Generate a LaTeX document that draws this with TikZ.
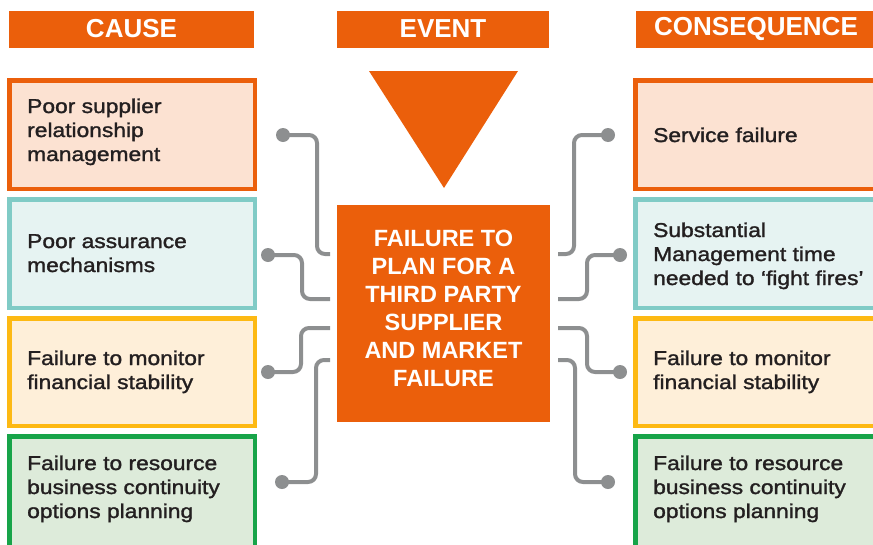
\documentclass[tikz,border=0pt]{standalone}
\usepackage{fontspec}
\setmainfont{Liberation Sans}
\newfontfamily\labfont[FakeStretch=1.14,FakeBold=1.5]{Liberation Sans}
\newfontfamily\hdfont[FakeStretch=1.0]{Liberation Sans}
\definecolor{orng}{HTML}{EB5F0B}
\definecolor{orfill}{HTML}{FCE2D2}
\definecolor{tlline}{HTML}{80CBC6}
\definecolor{tlfill}{HTML}{E6F3F2}
\definecolor{ylline}{HTML}{FDB913}
\definecolor{ylfill}{HTML}{FEEFD9}
\definecolor{grline}{HTML}{17A449}
\definecolor{grfill}{HTML}{DDEBDA}
\definecolor{conn}{HTML}{8D8F90}
\definecolor{txt}{HTML}{231F20}
\tikzset{
  hdr/.style={text=white, font=\hdfont\bfseries\fontsize{26}{30}\selectfont},
  bx/.style={line width=4.5pt},
  lbl/.style={anchor=base west, align=left, text=txt, inner sep=0pt, font=\labfont\fontsize{20}{24}\selectfont},
  wire/.style={draw=conn, line width=4pt, rounded corners=8pt},
  dot/.style={circle, fill=conn, minimum size=14pt, inner sep=0pt}
}
\begin{document}
\begin{tikzpicture}[x=1pt,y=-1pt]
\useasboundingbox (0,0) rectangle (873,544);
\clip (0,0) rectangle (873,544);
% headers
\fill[orng] (9,11) rectangle (254,48);
\node[hdr] (hcause) at (131.5,29) {CAUSE};
\fill[orng] (337,11) rectangle (549,48);
\node[hdr] (hevent) at (443,29) {EVENT};
\fill[orng] (636,11) rectangle (878,48);
\node[hdr] (hcons) at (756,29) {CONSEQUENCE};
% triangle
\fill[orng] (369,71) -- (518,71) -- (444,188) -- cycle;
% central box
\fill[orng] (337,205) rectangle (550,422);
\node[align=center, text=white, inner sep=0pt, font=\bfseries\fontsize{23.5}{28}\selectfont] (center) at (443.5,308)
  {FAILURE TO\\PLAN FOR A\\THIRD PARTY\\SUPPLIER\\AND MARKET\\FAILURE};
% left boxes
\draw[bx, draw=orng, fill=orfill] (9.25,80.25) rectangle (254.75,188.75);
\draw[bx, draw=tlline, fill=tlfill] (9.25,199.25) rectangle (254.75,307.75);
\draw[bx, draw=ylline, fill=ylfill] (9.25,318.25) rectangle (254.75,425.75);
\draw[bx, draw=grline, fill=grfill] (9.25,436.25) rectangle (254.75,560);
% right boxes
\draw[bx, draw=orng, fill=orfill] (635.25,80.25) rectangle (890,188.75);
\draw[bx, draw=tlline, fill=tlfill] (635.25,199.25) rectangle (890,307.75);
\draw[bx, draw=ylline, fill=ylfill] (635.25,318.25) rectangle (890,425.75);
\draw[bx, draw=grline, fill=grfill] (635.25,436.25) rectangle (890,560);
% labels (anchored at baseline of last line)
\node[lbl] (l1) at (27,161) {Poor supplier\\relationship\\management};
\node[lbl] (l2) at (27,272) {Poor assurance\\mechanisms};
\node[lbl] (l3) at (27,389) {Failure to monitor\\financial stability};
\node[lbl] (l4) at (27,518) {Failure to resource\\business continuity\\options planning};
\node[lbl] (r1) at (653,142) {Service failure};
\node[lbl] (r2) at (653,285) {Substantial\\Management time\\needed to ‘fight fires’};
\node[lbl] (r3) at (653,389) {Failure to monitor\\financial stability};
\node[lbl] (r4) at (653,518) {Failure to resource\\business continuity\\options planning};
% connector dots
\node[dot] (dl1) at (283,135) {};
\node[dot] (dl2) at (268,255) {};
\node[dot] (dl3) at (268,372) {};
\node[dot] (dl4) at (282,482) {};
\node[dot] (dr1) at (608,135) {};
\node[dot] (dr2) at (620,255) {};
\node[dot] (dr3) at (620,372) {};
\node[dot] (dr4) at (608,482) {};
% connector ends near central box
\coordinate (el1) at (330,254);
\coordinate (el2) at (330,299);
\coordinate (el3) at (330,328);
\coordinate (el4) at (330,360);
\coordinate (er1) at (558,254);
\coordinate (er2) at (558,299);
\coordinate (er3) at (558,328);
\coordinate (er4) at (558,360);
% connectors
\draw[wire] (dl1.center) -- (317,135) -- (317,254) -- (el1);
\draw[wire] (dl2.center) -- (302,255) -- (302,299) -- (el2);
\draw[wire] (dl3.center) -- (301,372) -- (301,328) -- (el3);
\draw[wire] (dl4.center) -- (316,482) -- (316,360) -- (el4);
\draw[wire] (dr1.center) -- (574,135) -- (574,254) -- (er1);
\draw[wire] (dr2.center) -- (587,255) -- (587,299) -- (er2);
\draw[wire] (dr3.center) -- (587,372) -- (587,328) -- (er3);
\draw[wire] (dr4.center) -- (575,482) -- (575,360) -- (er4);
\end{tikzpicture}
\end{document}
